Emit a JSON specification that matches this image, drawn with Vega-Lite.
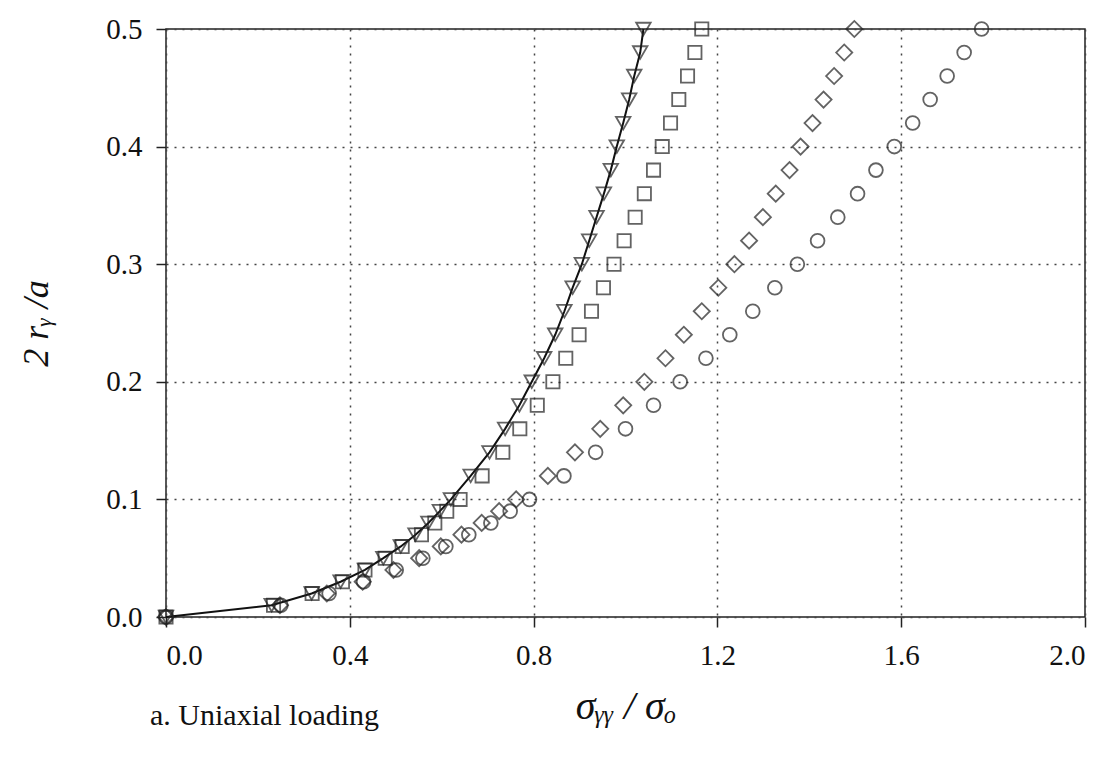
{
  "$schema": "https://vega.github.io/schema/vega-lite/v6.json",
  "width": 919,
  "height": 588,
  "autosize": {"type": "none"},
  "padding": {"left": 166, "top": 29, "right": 29, "bottom": 140},
  "background": "white",
  "config": {
    "view": {"stroke": "#222", "strokeWidth": 1.5},
    "font": "Liberation Serif"
  },
  "title": {
    "text": "a. Uniaxial loading", "orient": "bottom", "anchor": "start", "frame": "group",
    "offset": -25, "dx": -16, "font": "Liberation Serif", "fontSize": 30, "fontWeight": "normal", "color": "#111"
  },
  "datasets": {
    "pts": [
      {"s": "tri", "x": 0, "y": 0}, {"s": "tri", "x": 0.23, "y": 0.01}, {"s": "tri", "x": 0.317, "y": 0.02}, {"s": "tri", "x": 0.38, "y": 0.03}, {"s": "tri", "x": 0.433, "y": 0.04}, {"s": "tri", "x": 0.473, "y": 0.05}, {"s": "tri", "x": 0.511, "y": 0.06}, {"s": "tri", "x": 0.543, "y": 0.07}, {"s": "tri", "x": 0.571, "y": 0.08}, {"s": "tri", "x": 0.596, "y": 0.09}, {"s": "tri", "x": 0.62, "y": 0.10}, {"s": "tri", "x": 0.663, "y": 0.12}, {"s": "tri", "x": 0.704, "y": 0.14}, {"s": "tri", "x": 0.738, "y": 0.16}, {"s": "tri", "x": 0.769, "y": 0.18}, {"s": "tri", "x": 0.796, "y": 0.20}, {"s": "tri", "x": 0.823, "y": 0.22}, {"s": "tri", "x": 0.847, "y": 0.24}, {"s": "tri", "x": 0.867, "y": 0.26}, {"s": "tri", "x": 0.885, "y": 0.28}, {"s": "tri", "x": 0.905, "y": 0.30}, {"s": "tri", "x": 0.921, "y": 0.32}, {"s": "tri", "x": 0.937, "y": 0.34}, {"s": "tri", "x": 0.953, "y": 0.36}, {"s": "tri", "x": 0.968, "y": 0.38}, {"s": "tri", "x": 0.981, "y": 0.40}, {"s": "tri", "x": 0.995, "y": 0.42}, {"s": "tri", "x": 1.008, "y": 0.44}, {"s": "tri", "x": 1.019, "y": 0.46}, {"s": "tri", "x": 1.032, "y": 0.48}, {"s": "tri", "x": 1.039, "y": 0.50},
      {"s": "sq", "x": 0, "y": 0}, {"s": "sq", "x": 0.234, "y": 0.01}, {"s": "sq", "x": 0.318, "y": 0.02}, {"s": "sq", "x": 0.384, "y": 0.03}, {"s": "sq", "x": 0.433, "y": 0.04}, {"s": "sq", "x": 0.477, "y": 0.05}, {"s": "sq", "x": 0.514, "y": 0.06}, {"s": "sq", "x": 0.556, "y": 0.07}, {"s": "sq", "x": 0.585, "y": 0.08}, {"s": "sq", "x": 0.611, "y": 0.09}, {"s": "sq", "x": 0.64, "y": 0.10}, {"s": "sq", "x": 0.688, "y": 0.12}, {"s": "sq", "x": 0.733, "y": 0.14}, {"s": "sq", "x": 0.77, "y": 0.16}, {"s": "sq", "x": 0.808, "y": 0.18}, {"s": "sq", "x": 0.842, "y": 0.20}, {"s": "sq", "x": 0.87, "y": 0.22}, {"s": "sq", "x": 0.899, "y": 0.24}, {"s": "sq", "x": 0.926, "y": 0.26}, {"s": "sq", "x": 0.952, "y": 0.28}, {"s": "sq", "x": 0.975, "y": 0.30}, {"s": "sq", "x": 0.997, "y": 0.32}, {"s": "sq", "x": 1.021, "y": 0.34}, {"s": "sq", "x": 1.041, "y": 0.36}, {"s": "sq", "x": 1.061, "y": 0.38}, {"s": "sq", "x": 1.08, "y": 0.40}, {"s": "sq", "x": 1.098, "y": 0.42}, {"s": "sq", "x": 1.116, "y": 0.44}, {"s": "sq", "x": 1.135, "y": 0.46}, {"s": "sq", "x": 1.151, "y": 0.48}, {"s": "sq", "x": 1.166, "y": 0.50},
      {"s": "dia", "x": 0, "y": 0}, {"s": "dia", "x": 0.248, "y": 0.01}, {"s": "dia", "x": 0.35, "y": 0.02}, {"s": "dia", "x": 0.428, "y": 0.03}, {"s": "dia", "x": 0.495, "y": 0.04}, {"s": "dia", "x": 0.551, "y": 0.05}, {"s": "dia", "x": 0.598, "y": 0.06}, {"s": "dia", "x": 0.643, "y": 0.07}, {"s": "dia", "x": 0.687, "y": 0.08}, {"s": "dia", "x": 0.725, "y": 0.09}, {"s": "dia", "x": 0.762, "y": 0.10}, {"s": "dia", "x": 0.831, "y": 0.12}, {"s": "dia", "x": 0.89, "y": 0.14}, {"s": "dia", "x": 0.945, "y": 0.16}, {"s": "dia", "x": 0.995, "y": 0.18}, {"s": "dia", "x": 1.041, "y": 0.20}, {"s": "dia", "x": 1.087, "y": 0.22}, {"s": "dia", "x": 1.127, "y": 0.24}, {"s": "dia", "x": 1.166, "y": 0.26}, {"s": "dia", "x": 1.202, "y": 0.28}, {"s": "dia", "x": 1.237, "y": 0.30}, {"s": "dia", "x": 1.269, "y": 0.32}, {"s": "dia", "x": 1.299, "y": 0.34}, {"s": "dia", "x": 1.327, "y": 0.36}, {"s": "dia", "x": 1.357, "y": 0.38}, {"s": "dia", "x": 1.381, "y": 0.40}, {"s": "dia", "x": 1.407, "y": 0.42}, {"s": "dia", "x": 1.431, "y": 0.44}, {"s": "dia", "x": 1.454, "y": 0.46}, {"s": "dia", "x": 1.476, "y": 0.48}, {"s": "dia", "x": 1.498, "y": 0.50},
      {"s": "cir", "x": 0, "y": 0}, {"s": "cir", "x": 0.25, "y": 0.01}, {"s": "cir", "x": 0.355, "y": 0.02}, {"s": "cir", "x": 0.43, "y": 0.03}, {"s": "cir", "x": 0.501, "y": 0.04}, {"s": "cir", "x": 0.559, "y": 0.05}, {"s": "cir", "x": 0.609, "y": 0.06}, {"s": "cir", "x": 0.659, "y": 0.07}, {"s": "cir", "x": 0.707, "y": 0.08}, {"s": "cir", "x": 0.749, "y": 0.09}, {"s": "cir", "x": 0.791, "y": 0.10}, {"s": "cir", "x": 0.866, "y": 0.12}, {"s": "cir", "x": 0.935, "y": 0.14}, {"s": "cir", "x": 1.0, "y": 0.16}, {"s": "cir", "x": 1.061, "y": 0.18}, {"s": "cir", "x": 1.119, "y": 0.20}, {"s": "cir", "x": 1.175, "y": 0.22}, {"s": "cir", "x": 1.227, "y": 0.24}, {"s": "cir", "x": 1.277, "y": 0.26}, {"s": "cir", "x": 1.325, "y": 0.28}, {"s": "cir", "x": 1.374, "y": 0.30}, {"s": "cir", "x": 1.418, "y": 0.32}, {"s": "cir", "x": 1.462, "y": 0.34}, {"s": "cir", "x": 1.505, "y": 0.36}, {"s": "cir", "x": 1.545, "y": 0.38}, {"s": "cir", "x": 1.585, "y": 0.40}, {"s": "cir", "x": 1.625, "y": 0.42}, {"s": "cir", "x": 1.663, "y": 0.44}, {"s": "cir", "x": 1.7, "y": 0.46}, {"s": "cir", "x": 1.737, "y": 0.48}, {"s": "cir", "x": 1.775, "y": 0.50}
    ]
  },
  "data": {"name": "pts"},
  "encoding": {
    "x": {
      "field": "x", "type": "quantitative",
      "scale": {"domain": [0, 2], "nice": false, "zero": false},
      "axis": {
        "values": [0, 0.4, 0.8, 1.2, 1.6, 2.0], "format": ".1f",
        "grid": true, "gridDash": [2, 6], "gridColor": "#444", "gridWidth": 1.5,
        "domain": false, "tickColor": "#222", "tickSize": 10, "tickWidth": 1.5,
        "labelFont": "Liberation Serif", "labelFontSize": 29, "labelColor": "#111", "labelPadding": 14,
        "title": "σᵧᵧ / σₒ", "titleFont": "Liberation Serif", "titleFontStyle": "italic", "titleFontWeight": "normal",
        "titleFontSize": 40, "titleColor": "#111", "titlePadding": 16
      }
    },
    "y": {
      "field": "y", "type": "quantitative",
      "scale": {"domain": [0, 0.5], "nice": false, "zero": false},
      "axis": {
        "values": [0, 0.1, 0.2, 0.3, 0.4, 0.5], "format": ".1f",
        "grid": true, "gridDash": [2, 6], "gridColor": "#444", "gridWidth": 1.5,
        "domain": false, "tickColor": "#222", "tickSize": 10, "tickWidth": 1.5,
        "labelFont": "Liberation Serif", "labelFontSize": 29, "labelColor": "#111", "labelPadding": 14,
        "title": "2 rᵧ /a", "titleFont": "Liberation Serif", "titleFontStyle": "italic", "titleFontWeight": "normal",
        "titleFontSize": 36, "titleColor": "#111", "titlePadding": 50
      }
    }
  },
  "layer": [
    {
      "transform": [{"filter": "datum.s === 'tri'"}],
      "mark": {"type": "line", "color": "#111", "strokeWidth": 2},
      "encoding": {"order": {"field": "y", "type": "quantitative"}}
    },
    {
      "transform": [{"filter": "datum.s === 'cir'"}],
      "mark": {"type": "point", "shape": "circle", "filled": false, "strokeWidth": 1.8, "color": "#222", "size": 190}
    },
    {
      "transform": [{"filter": "datum.s === 'dia'"}],
      "mark": {"type": "point", "shape": "diamond", "filled": false, "strokeWidth": 1.8, "color": "#222", "size": 260}
    },
    {
      "transform": [{"filter": "datum.s === 'sq'"}],
      "mark": {"type": "point", "shape": "square", "filled": false, "strokeWidth": 1.8, "color": "#222", "size": 175}
    },
    {
      "transform": [{"filter": "datum.s === 'tri'"}],
      "mark": {"type": "point", "shape": "triangle-down", "filled": false, "strokeWidth": 1.8, "color": "#222", "size": 210}
    }
  ]
}
